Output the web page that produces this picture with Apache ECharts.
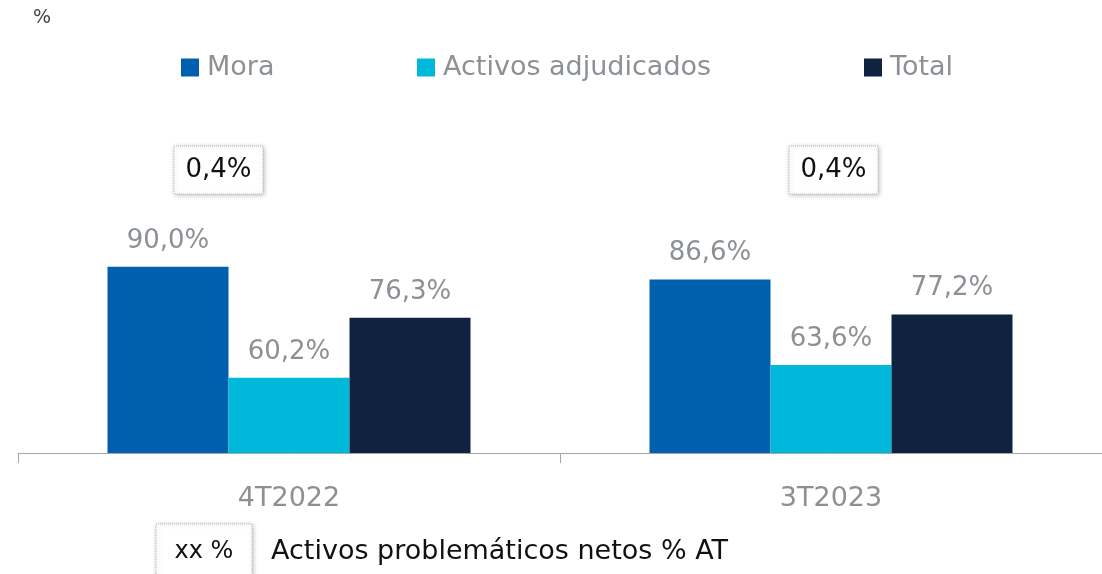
<!DOCTYPE html>
<html>
<head>
<meta charset="utf-8">
<script src="https://cdn.jsdelivr.net/npm/echarts@6/dist/echarts.min.js"></script>
<style>
  html, body { margin: 0; padding: 0; background: #fff; }
  #chart { width: 1102px; height: 574px; }
</style>
</head>
<body>
<div id="chart"></div>
<script>
  var categories = ['4T2022', '3T2023'];
  var seriesNames = ['Mora', 'Activos adjudicados', 'Total'];
  var mora = [90.0, 86.6];
  var adjudicados = [60.2, 63.6];
  var total = [76.3, 77.2];
  var netRatio = ['0,4%', '0,4%']; // activos problemáticos netos % AT
  var colors = ['#0060AE', '#00B8D9', '#0F2340'];

  var FONT = '"DejaVu Sans", "Noto Sans", sans-serif';
  var grey = '#8C9196';

  function fmt(p) {
    return p.value.toFixed(1).replace('.', ',') + '%';
  }

  function bar(name, data, color) {
    return {
      name: name,
      type: 'bar',
      data: data,
      barWidth: 121,
      barGap: 0,
      itemStyle: { color: color },
      label: {
        show: true,
        position: 'top',
        distance: 13,
        formatter: fmt,
        color: grey,
        fontFamily: FONT,
        fontSize: 26
      }
    };
  }

  // una leyenda por serie para fijar su posición
  function legendAt(name, left) {
    return {
      data: [name],
      left: left,
      top: 54,
      padding: 0,
      itemWidth: 18,
      itemHeight: 18,
      itemGap: 0,
      icon: 'rect',
      textStyle: { color: grey, fontSize: 27, fontFamily: FONT, padding: [0, 0, 0, 3] }
    };
  }

  // caja punteada con sombra
  function box(x, y, w, h, text, size) {
    return {
      type: 'group',
      children: [
        {
          type: 'rect',
          shape: { x: x, y: y, width: w, height: h },
          style: {
            fill: '#fff',
            stroke: '#b8b8b8',
            lineWidth: 1,
            lineDash: [1, 1],
            shadowBlur: 5,
            shadowColor: 'rgba(0,0,0,0.25)',
            shadowOffsetX: 1,
            shadowOffsetY: 1
          }
        },
        {
          type: 'text',
          x: x + w / 2,
          y: Math.min(y + h / 2, 552),
          style: {
            text: text,
            fill: '#111',
            font: size + 'px ' + FONT,
            align: 'center',
            verticalAlign: 'middle'
          }
        }
      ]
    };
  }

  var chart = echarts.init(document.getElementById('chart'));
  chart.setOption({
    animation: false,
    color: colors,
    textStyle: { fontFamily: FONT },
    legend: [
      legendAt(seriesNames[0], 181),
      legendAt(seriesNames[1], 417),
      legendAt(seriesNames[2], 864)
    ],
    grid: { left: 18, right: 0, top: 229.5, bottom: 121 },
    xAxis: {
      type: 'category',
      data: categories,
      axisLine: { lineStyle: { color: '#A6A6A6', width: 1 } },
      axisTick: { show: true, length: 10, lineStyle: { color: '#A6A6A6' } },
      axisLabel: { color: grey, fontSize: 27, margin: 32, fontFamily: FONT }
    },
    yAxis: {
      type: 'value',
      min: 40,
      max: 100,
      show: false,
      splitLine: { show: false }
    },
    series: [
      bar(seriesNames[0], mora, colors[0]),
      bar(seriesNames[1], adjudicados, colors[1]),
      bar(seriesNames[2], total, colors[2])
    ],
    graphic: [
      {
        type: 'text',
        x: 42,
        y: 18,
        style: { text: '%', fill: '#444', font: '19px ' + FONT, align: 'center', verticalAlign: 'middle' }
      },
      box(174, 146, 89, 48, netRatio[0], 26),
      box(789, 146, 89, 48, netRatio[1], 26),
      box(156, 524, 96, 60, 'xx %', 24),
      {
        type: 'text',
        x: 271,
        y: 552,
        style: {
          text: 'Activos problemáticos netos % AT',
          fill: '#111',
          font: '27px ' + FONT,
          align: 'left',
          verticalAlign: 'middle'
        }
      }
    ]
  });
</script>
</body>
</html>
